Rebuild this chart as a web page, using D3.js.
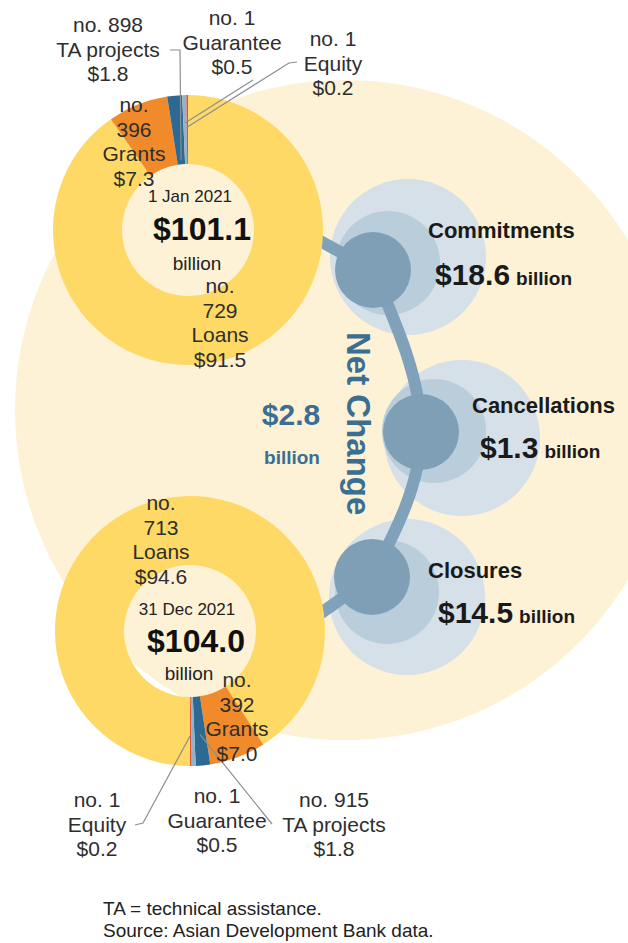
<!DOCTYPE html>
<html lang="en">
<head>
<meta charset="UTF-8">
<script src="https://d3js.org/d3.v7.min.js"></script>
<title>Portfolio change 2021</title>
<style>
  body { margin: 0; background: #fff; }
  svg text { font-family: "Liberation Sans", Arial, sans-serif; }
</style>
</head>
<body>
<script>
// data
var categories = ["Loans", "Grants", "TA projects", "Guarantee", "Equity"];
var janCounts = [729, 396, 898, 1, 1];
var janValues = [91.5, 7.3, 1.8, 0.5, 0.2];
var decCounts = [713, 392, 915, 1, 1];
var decValues = [94.6, 7.0, 1.8, 0.5, 0.2];
var dates = ["1 Jan 2021", "31 Dec 2021"];
var totals = [101.1, 104.0];
var flowNames = ["Commitments", "Cancellations", "Closures"];
var flowValues = [18.6, 1.3, 14.5];
var netChange = 2.8;

var colors = d3.scaleOrdinal()
    .domain(categories)
    .range(["#FFD966", "#F08A2B", "#2C6A93", "#8FB4CD", "#E2553A"]);

var width = 628, height = 943;
var fmt = d3.format(".1f");

var svg = d3.select('body').append('svg')
    .attr('width', width)
    .attr('height', height);

// big pale disc behind everything
svg.append('circle')
    .attr('cx', 345).attr('cy', 410).attr('r', 330)
    .attr('fill', '#FDF2D6');

// flow bubbles
var flowPos = [
    {dark: [373, 270], mid: [388, 263], out: [408, 257], lab: [428, 238], val: [435, 285]},
    {dark: [421, 432], mid: [434, 431], out: [462, 438], lab: [472, 413], val: [480, 458]},
    {dark: [372, 577], mid: [387, 592], out: [407, 597], lab: [428, 578], val: [438, 623]}
];
var flows = flowNames.map(function(n, i) {
    return {name: n, value: flowValues[i], pos: flowPos[i]};
});

var fg = svg.append('g');
fg.selectAll('circle.out').data(flows).enter().append('circle')
    .attr('cx', function(d) { return d.pos.out[0]; })
    .attr('cy', function(d) { return d.pos.out[1]; })
    .attr('r', 78).attr('fill', '#D5E0E9');
fg.selectAll('circle.mid').data(flows).enter().append('circle')
    .attr('cx', function(d) { return d.pos.mid[0]; })
    .attr('cy', function(d) { return d.pos.mid[1]; })
    .attr('r', 52).attr('fill', '#BACDDA');

// connector
var line = d3.line();
var curve = d3.line().curve(d3.curveNatural);
var stroke = '#7FA2BA';
fg.append('path')
    .attr('d', line([[300, 230], flows[0].pos.dark]))
    .attr('stroke', stroke).attr('stroke-width', 12).attr('fill', 'none');
fg.append('path')
    .attr('d', curve(flows.map(function(d) { return d.pos.dark; })))
    .attr('stroke', stroke).attr('stroke-width', 12).attr('fill', 'none');
fg.append('path')
    .attr('d', line([flows[2].pos.dark, [300, 628]]))
    .attr('stroke', stroke).attr('stroke-width', 12).attr('fill', 'none');

fg.selectAll('circle.dark').data(flows).enter().append('circle')
    .attr('cx', function(d) { return d.pos.dark[0]; })
    .attr('cy', function(d) { return d.pos.dark[1]; })
    .attr('r', 38).attr('fill', '#7E9FB6');

fg.selectAll('text.fname').data(flows).enter().append('text')
    .attr('x', function(d) { return d.pos.lab[0]; })
    .attr('y', function(d) { return d.pos.lab[1]; })
    .attr('font-size', 22).attr('font-weight', 'bold').attr('fill', '#1a1a1a')
    .text(function(d) { return d.name; });
var fv = fg.selectAll('text.fval').data(flows).enter().append('text')
    .attr('x', function(d) { return d.pos.val[0]; })
    .attr('y', function(d) { return d.pos.val[1]; })
    .attr('font-weight', 'bold').attr('fill', '#1a1a1a');
fv.append('tspan').attr('font-size', 30).text(function(d) { return '$' + fmt(d.value); });
fv.append('tspan').attr('font-size', 19).attr('dx', 6).text('billion');

// net change
var blue = '#3A6F93';
svg.append('text')
    .attr('x', 291).attr('y', 425)
    .attr('text-anchor', 'middle').attr('font-size', 30).attr('font-weight', 'bold')
    .attr('fill', blue).text('$' + fmt(netChange));
svg.append('text')
    .attr('x', 292).attr('y', 464)
    .attr('text-anchor', 'middle').attr('font-size', 19).attr('font-weight', 'bold')
    .attr('fill', blue).text('billion');
svg.append('text')
    .attr('transform', 'translate(347,332) rotate(90)')
    .attr('font-size', 33).attr('font-weight', 'bold')
    .attr('fill', blue).text('Net Change');

// donuts
var donuts = [
    {cx: 188, cy: 230, start: 0, counts: janCounts, values: janValues, date: dates[0], total: totals[0],
     center: [[190, 202], [202, 240], [197, 270]],
     labels: {"Loans": [220, 293], "Grants": [134, 112], "TA projects": [108, 32], "Guarantee": [232, 25], "Equity": [333, 46]},
     leaders: {"TA projects": [[[170, 50], [180, 50]], 70], "Guarantee": [[[253, 80]], 107], "Equity": [[[297, 62], [289, 63]], 103]}},
    {cx: 190, cy: 631, start: Math.PI, counts: decCounts, values: decValues, date: dates[1], total: totals[1],
     center: [[187, 615], [196, 652], [189, 680]],
     labels: {"Loans": [161, 510], "Grants": [237, 687], "TA projects": [334, 807], "Guarantee": [217, 803], "Equity": [97, 807]},
     leaders: {"TA projects": [[[272, 824]], 104], "Equity": [[[135, 825], [143, 823]], 104]}}
];

var arc = d3.arc().innerRadius(66).outerRadius(135);

donuts.forEach(function(dn) {
    var rows = categories.map(function(c, i) {
        return {cat: c, count: dn.counts[i], value: dn.values[i]};
    });
    var pie = d3.pie().sort(null).value(function(d) { return d.value; })
        .startAngle(dn.start).endAngle(dn.start + 2 * Math.PI);
    var slices = pie(rows);
    var g = svg.append('g').attr('transform', 'translate(' + dn.cx + ',' + dn.cy + ')');
    g.selectAll('path').data(slices).enter().append('path')
        .attr('d', arc)
        .attr('fill', function(d) { return colors(d.data.cat); });

    // leader lines
    slices.forEach(function(s) {
        var ld = dn.leaders[s.data.cat];
        if (!ld) return;
        var a = (s.startAngle + s.endAngle) / 2;
        var p = [dn.cx + ld[1] * Math.sin(a), dn.cy - ld[1] * Math.cos(a)];
        svg.append('path')
            .attr('d', line(ld[0].concat([p])))
            .attr('stroke', '#8a8f94').attr('stroke-width', 1.2).attr('fill', 'none');
    });

    // center text
    svg.append('text').attr('x', dn.center[0][0]).attr('y', dn.center[0][1])
        .attr('text-anchor', 'middle').attr('font-size', 17).attr('fill', '#222').text(dn.date);
    svg.append('text').attr('x', dn.center[1][0]).attr('y', dn.center[1][1])
        .attr('text-anchor', 'middle').attr('font-size', 32).attr('font-weight', 'bold')
        .attr('fill', '#111').text('$' + fmt(dn.total));
    svg.append('text').attr('x', dn.center[2][0]).attr('y', dn.center[2][1])
        .attr('text-anchor', 'middle').attr('font-size', 19).attr('fill', '#222').text('billion');

    // slice labels
    rows.forEach(function(r) {
        var pos = dn.labels[r.cat];
        var lines = (r.cat === 'Loans' || r.cat === 'Grants')
            ? ['no.', String(r.count), r.cat, '$' + fmt(r.value)]
            : ['no. ' + r.count, r.cat, '$' + fmt(r.value)];
        var t = svg.append('text').attr('text-anchor', 'middle')
            .attr('font-size', 21).attr('fill', '#2e2e2e');
        lines.forEach(function(l, k) {
            t.append('tspan').attr('x', pos[0]).attr('y', pos[1] + k * 24.5).text(l);
        });
    });
});

// footer
var foot = svg.append('text').attr('font-size', 19).attr('fill', '#222');
foot.append('tspan').attr('x', 103).attr('y', 915).text('TA = technical assistance.');
foot.append('tspan').attr('x', 103).attr('y', 937).text('Source: Asian Development Bank data.');
</script>
</body>
</html>
